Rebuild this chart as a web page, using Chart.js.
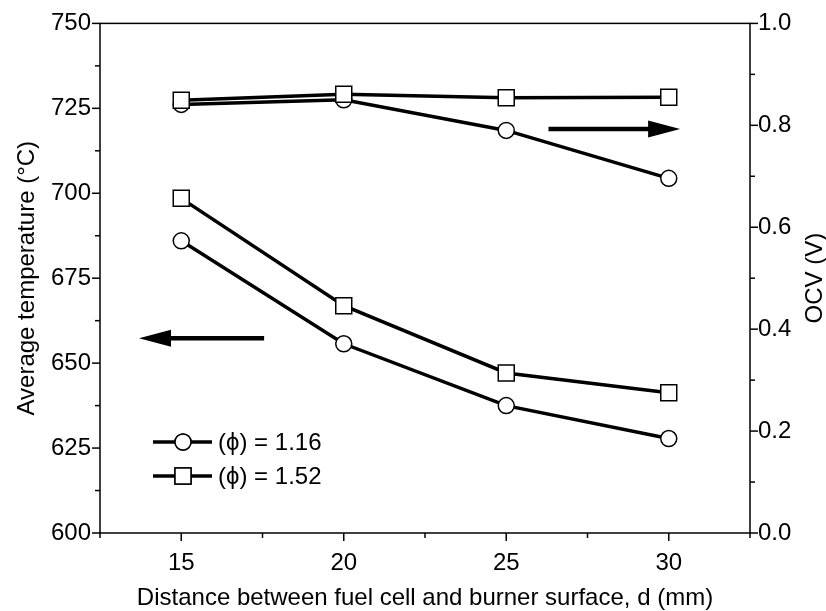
<!DOCTYPE html>
<html>
<head>
<meta charset="utf-8">
<script src="https://cdn.jsdelivr.net/npm/chart.js@4.4.0/dist/chart.umd.min.js"></script>
<style>
  html, body { margin: 0; padding: 0; background: #fff; }
</style>
</head>
<body>
<canvas id="chart" width="826" height="611"></canvas>
<script>
// values
const distances = [15, 20, 25, 30];
const tempPhi116 = [686.0, 655.7, 637.5, 627.8];
const tempPhi152 = [698.5, 666.9, 647.1, 641.3];
const ocvPhi116 = [0.841, 0.850, 0.790, 0.696];
const ocvPhi152 = [0.849, 0.861, 0.854, 0.855];
const seriesLabels = ['(\u03D5) = 1.16', '(\u03D5) = 1.52'];
const xTicks = [15, 20, 25, 30];
const tempTicks = [600, 625, 650, 675, 700, 725, 750];
const ocvTicks = [0, 0.2, 0.4, 0.6, 0.8, 1.0];

const FONT = 'Liberation Sans, Arial, sans-serif';
const font = { family: FONT, size: 24 };

const toPoints = ys => distances.map((x, i) => ({ x: x, y: ys[i] }));

function series(label, values, axis, style) {
  return {
    label: label,
    data: toPoints(values),
    yAxisID: axis,
    borderColor: '#000',
    borderWidth: 3.5,
    backgroundColor: '#fff',
    pointStyle: style,
    pointRadius: style === 'circle' ? 8 : 11.3,
    pointHoverRadius: style === 'circle' ? 8 : 11.3,
    pointBorderWidth: 1.5,
    pointBackgroundColor: '#fff',
    pointBorderColor: '#000',
    tension: 0
  };
}

// arrows pointing at the axis each pair of curves belongs to
const arrowToRight = { from: 26.3, to: 30.35, value: 0.793, axis: 'y1' };
const arrowToLeft = { from: 17.55, to: 13.7, value: 657.3, axis: 'y' };

function drawArrow(ctx, x0, x1, y) {
  const dir = Math.sign(x1 - x0);
  const headLen = 32, headHalf = 8.5;
  ctx.lineWidth = 4.5;
  ctx.beginPath();
  ctx.moveTo(x0, y);
  ctx.lineTo(x1 - dir * headLen + dir * 2, y);
  ctx.stroke();
  ctx.beginPath();
  ctx.moveTo(x1, y);
  ctx.lineTo(x1 - dir * headLen, y - headHalf);
  ctx.lineTo(x1 - dir * headLen, y + headHalf);
  ctx.closePath();
  ctx.fill();
}

const decorations = {
  id: 'decorations',
  afterDraw(chart) {
    const { ctx, chartArea: a, scales } = chart;
    const x = scales.x, yl = scales.y, yr = scales.y1;
    ctx.save();
    ctx.strokeStyle = '#000';
    ctx.fillStyle = '#000';

    // frame
    ctx.lineWidth = 1.5;
    ctx.strokeRect(a.left, a.top, a.right - a.left, a.bottom - a.top);

    // ticks, major and minor, all outward
    const major = 8, minor = 5;
    const seg = (x0, y0, x1, y1) => { ctx.beginPath(); ctx.moveTo(x0, y0); ctx.lineTo(x1, y1); ctx.stroke(); };
    for (let v = 12.5; v <= 32.5 + 1e-6; v += 2.5) {
      const px = x.getPixelForValue(v);
      seg(px, a.bottom, px, a.bottom + (xTicks.includes(v) ? major : minor));
    }
    for (let v = 600; v <= 750 + 1e-6; v += 12.5) {
      const py = yl.getPixelForValue(v);
      seg(a.left, py, a.left - (v % 25 === 0 ? major : minor), py);
    }
    for (let i = 0; i <= 10; i++) {
      const py = yr.getPixelForValue(i / 10);
      seg(a.right, py, a.right + (i % 2 === 0 ? major : minor), py);
    }

    // arrows
    drawArrow(ctx, x.getPixelForValue(arrowToRight.from), x.getPixelForValue(arrowToRight.to),
      scales[arrowToRight.axis].getPixelForValue(arrowToRight.value));
    drawArrow(ctx, x.getPixelForValue(arrowToLeft.from), x.getPixelForValue(arrowToLeft.to),
      scales[arrowToLeft.axis].getPixelForValue(arrowToLeft.value));

    // right axis title, reading upwards like the left one
    ctx.save();
    ctx.translate(a.right + 65, (a.top + a.bottom) / 2);
    ctx.rotate(-Math.PI / 2);
    ctx.font = '24px ' + FONT;
    ctx.textAlign = 'center';
    ctx.textBaseline = 'middle';
    ctx.fillText('OCV (V)', 0, 0);
    ctx.restore();

    // legend in lower left corner
    const ds = chart.data.datasets;
    const rows = [
      { ds: ds.find(d => d.label === seriesLabels[0]), y: a.bottom - 91 },
      { ds: ds.find(d => d.label === seriesLabels[1]), y: a.bottom - 57 }
    ];
    ctx.font = '24px ' + FONT;
    ctx.textAlign = 'left';
    ctx.textBaseline = 'middle';
    rows.forEach(r => {
      const lx0 = a.left + 53, lx1 = a.left + 112, mx = a.left + 83;
      ctx.lineWidth = r.ds.borderWidth;
      seg(lx0, r.y, lx1, r.y);
      ctx.lineWidth = r.ds.pointBorderWidth;
      Chart.helpers.drawPoint(ctx, {
        pointStyle: r.ds.pointStyle, radius: r.ds.pointRadius, rotation: 0, borderWidth: r.ds.pointBorderWidth
      }, mx, r.y);
      ctx.fillStyle = '#fff';
      ctx.fill();
      ctx.strokeStyle = '#000';
      ctx.stroke();
      ctx.fillStyle = '#000';
      ctx.fillText(r.ds.label, a.left + 118, r.y + 1);
    });
    ctx.restore();
  }
};

new Chart(document.getElementById('chart'), {
  type: 'line',
  data: {
    // squares first so they sit on top of the circles where they overlap
    datasets: [
      series(seriesLabels[1], ocvPhi152, 'y1', 'rect'),
      series(seriesLabels[1], tempPhi152, 'y', 'rect'),
      series(seriesLabels[0], ocvPhi116, 'y1', 'circle'),
      series(seriesLabels[0], tempPhi116, 'y', 'circle')
    ]
  },
  options: {
    responsive: false,
    animation: false,
    devicePixelRatio: 1,
    layout: { padding: { top: 22, left: 0, right: 0, bottom: 0 } },
    plugins: { legend: { display: false }, tooltip: { enabled: false } },
    scales: {
      x: {
        type: 'linear',
        min: 12.5,
        max: 32.5,
        afterBuildTicks: s => { s.ticks = xTicks.map(v => ({ value: v })); },
        afterFit: s => { s.height = 78; },
        grid: { display: false, drawTicks: false },
        border: { display: false },
        ticks: { color: '#000', font: font, padding: 16, maxRotation: 0 },
        title: {
          display: true,
          text: 'Distance between fuel cell and burner surface, d (mm)',
          color: '#000',
          font: { family: FONT, size: 24, lineHeight: 1 },
          padding: { top: 0, bottom: 1 }
        }
      },
      y: {
        position: 'left',
        min: 600,
        max: 750,
        afterBuildTicks: s => { s.ticks = tempTicks.map(v => ({ value: v })); },
        afterFit: s => { s.width = 100; },
        grid: { display: false, drawTicks: false },
        border: { display: false },
        ticks: { color: '#000', font: font, padding: 9 },
        title: {
          display: true,
          text: 'Average temperature (\u00B0C)',
          color: '#000',
          font: font,
          padding: { top: 13, bottom: 0 }
        }
      },
      y1: {
        position: 'right',
        min: 0,
        max: 1,
        afterBuildTicks: s => { s.ticks = ocvTicks.map(v => ({ value: v })); },
        afterFit: s => { s.width = 76; },
        grid: { display: false, drawTicks: false },
        border: { display: false },
        ticks: { color: '#000', font: font, padding: 8, callback: v => v.toFixed(1) }
      }
    }
  },
  plugins: [decorations]
});
</script>
</body>
</html>
